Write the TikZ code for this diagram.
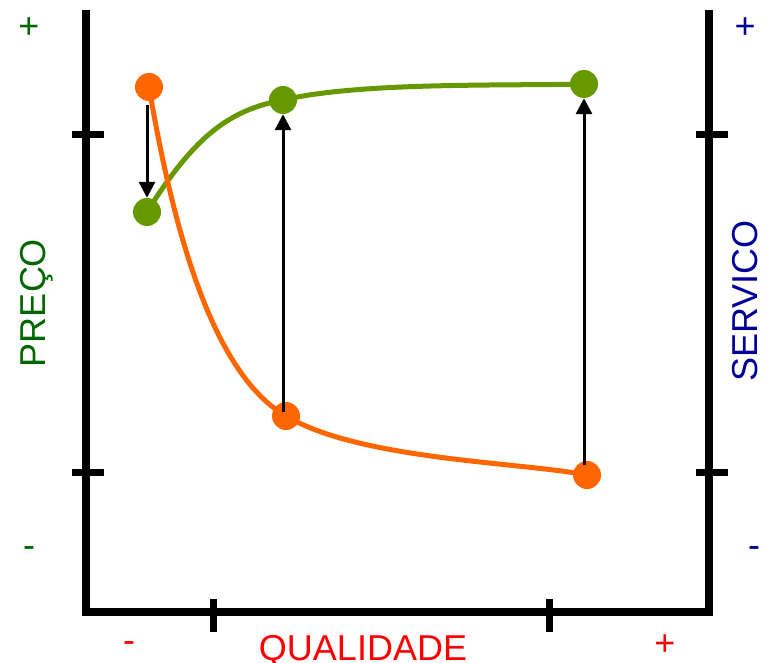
\documentclass[tikz,border=0pt]{standalone}
\usepackage{fontspec}
\setmainfont{Liberation Sans}
\usetikzlibrary{arrows.meta}
\definecolor{precocolor}{RGB}{0,102,0}
\definecolor{servcolor}{RGB}{0,0,153}
\definecolor{qualcolor}{RGB}{255,0,0}
\definecolor{orangept}{RGB}{255,102,0}
\definecolor{greenpt}{RGB}{102,153,0}

\begin{document}
\begin{tikzpicture}[x=1pt, y=-1pt, font=\fontsize{36}{40}\selectfont,
    axis/.style={line width=8pt, line join=miter},
    axtick/.style={line width=7pt},
    pt/.style={circle, inner sep=0pt, minimum size=28pt, fill=#1},
    curve/.style={line width=5pt, #1},
    link/.style={-{Triangle[width=16pt,length=16pt]}, line width=3pt}]
        \useasboundingbox (0,0) rectangle (762,663);
        % axes
        \draw[axis] (86,10) -- (86,612) -- (709,612) -- (709,10);
        \foreach \y in {135,472} {
          \draw[axtick] (72,\y) -- (104,\y);
          \draw[axtick] (696,\y) -- (728,\y);
        }
        \foreach \x in {213,549} \draw[axtick] (\x,599) -- (\x,632);
        % points
        \node[pt=orangept] (o1) at (149,87) {};
        \node[pt=orangept] (o2) at (286,416) {};
        \node[pt=orangept] (o3) at (587,475) {};
        \node[pt=greenpt] (g1) at (147,212) {};
        \node[pt=greenpt] (g2) at (283,100) {};
        \node[pt=greenpt] (g3) at (584,84) {};
        % curves
        \draw[curve=greenpt] (g1.center) .. controls (195,135) and (230,110) .. (g2.center)
          .. controls (360,82) and (500,86) .. (g3.center);
        \draw[curve=orangept] (o1.center) .. controls (175,240) and (215,375) .. (o2.center)
          .. controls (360,460) and (520,462) .. (o3.center);
        % arrows
        \draw[link, shorten <=4pt] (g1 |- o1.south) -- (g1.north);
        \draw[link, shorten <=4pt] (g2 |- o2.center) -- (g2.south);
        \draw[link, shorten <=10pt] (g3 |- o3.center) -- (g3.south);
        % labels
        \node[precocolor, anchor=base] (pplus) at (29,39) {+};
        \node[precocolor, anchor=base] (pminus) at (29,557) {-};
        \node[precocolor, anchor=base, rotate=90] (preco) at (45,303) {PREÇO};
        \node[servcolor, anchor=base] (splus) at (745,39) {+};
        \node[servcolor, anchor=base] (sminus) at (754,557) {-};
        \node[servcolor, anchor=base, rotate=90, inner sep=0pt] (servico) at (757,301) {SERVICO};
        \node[qualcolor, anchor=base] (qminus) at (129,652) {-};
        \node[qualcolor, anchor=base] (qual) at (363,660) {QUALIDADE};
        \node[qualcolor, anchor=base] (qplus) at (665,655) {+};
      \end{tikzpicture}
\end{document}
